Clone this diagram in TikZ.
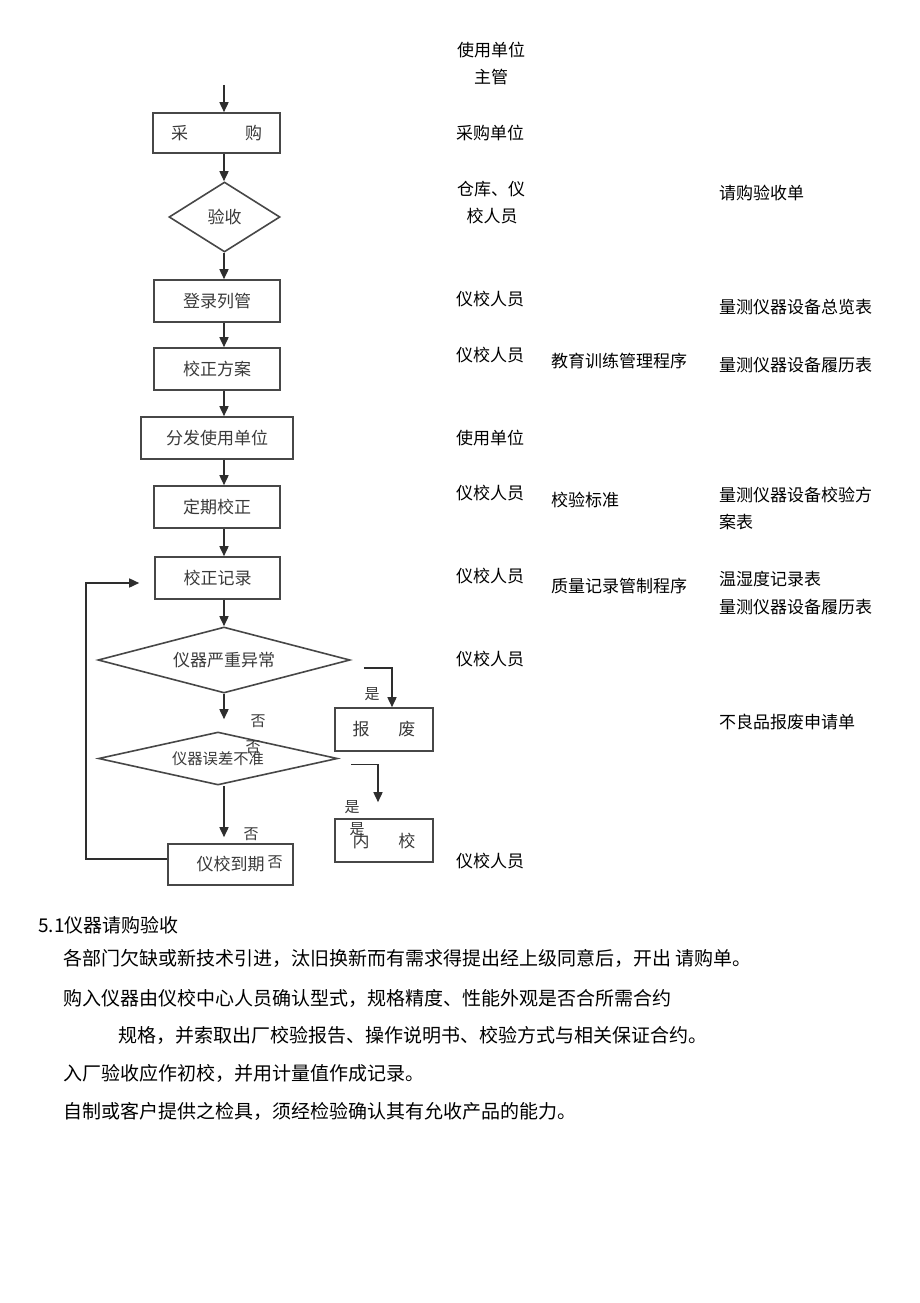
\documentclass[tikz,border=0pt]{standalone}
\usepackage{fontspec}
\setmainfont{Noto Sans CJK SC}
\usetikzlibrary{shapes.geometric,arrows.meta}
\definecolor{ln}{HTML}{474747}
\definecolor{al}{HTML}{2E2E2E}
\definecolor{ft}{HTML}{3A3A3A}
\begin{document}
\begin{tikzpicture}[x=1pt,y=-1pt,
  fbox/.style={draw=ln,line width=1.6pt,inner sep=0pt,text=ft,font=\fontsize{17}{17}\selectfont},
  dia/.style={draw=ln,line width=1.6pt,diamond,inner sep=0pt,text=ft},
  arr/.style={draw=al,line width=1.6pt,-{Triangle[length=10pt,width=9pt]}},
  yn/.style={inner sep=0pt,text=ft,font=\fontsize{15}{15}\selectfont},
  lbl/.style={inner sep=0pt,anchor=west,font=\fontsize{17}{17}\selectfont},
  lblc/.style={inner sep=0pt,font=\fontsize{17}{17}\selectfont},
  body/.style={inner sep=0pt,anchor=west,font=\fontsize{19}{19}\selectfont}]
\useasboundingbox[fill=white] (0,0) rectangle (920,1303);

% flowchart nodes
\node[fbox,minimum width=127pt,minimum height=40pt] (cg) at (216.5,133) {采\hspace{57pt}购};
\node[dia,minimum width=111pt,minimum height=70pt,font=\fontsize{17}{17}\selectfont] (ys) at (224.5,217) {验收};
\node[fbox,minimum width=126pt,minimum height=42pt] (dl) at (217,301) {登录列管};
\node[fbox,minimum width=126pt,minimum height=42pt] (fa) at (217,369) {校正方案};
\node[fbox,minimum width=152pt,minimum height=42pt] (ff) at (217,438) {分发使用单位};
\node[fbox,minimum width=126pt,minimum height=42pt] (dq1) at (217,507) {定期校正};
\node[fbox,minimum width=125pt,minimum height=42pt] (rec) at (217.5,578) {校正记录};
\node[dia,minimum width=252pt,minimum height=66pt,shape aspect=4,font=\fontsize{17}{17}\selectfont] (d1) at (224,660) {仪器严重异常};
\node[dia,minimum width=239pt,minimum height=53pt,shape aspect=4.5,font=\fontsize{15.3}{15.3}\selectfont] (d2) at (218,758.5) {仪器误差不准};
\node[fbox,minimum width=98pt,minimum height=43pt] (bf) at (384,729.5) {报\hspace{29pt}废};
\node[yn] (y3) at (357,829) {是};
\node[fbox,minimum width=98pt,minimum height=43pt] (nx) at (384,840.5) {内\hspace{29pt}校};
\node[fbox,minimum width=125pt,minimum height=41pt] (dq) at (230.5,864.5) {仪校到期};

% yes / no labels
\node[yn] (y1) at (372,694) {是};
\node[yn] (n1) at (258,721) {否};
\node[yn] (n2) at (253,747) {否};
\node[yn] (y2) at (352,807) {是};
\node[yn] (n3) at (251,834) {否};
\node[yn] (n4) at (275,862) {否};

% helper coordinates
\coordinate (ax) at (224,0);
\coordinate (lx) at (86,0);
\coordinate (b1) at (392,0);
\coordinate (b2) at (378,0);
\coordinate (topin) at (224,85);
\coordinate (recin) at ([yshift=-5pt]rec.west);
\coordinate (dqout) at ([yshift=5.5pt]dq.west);
\coordinate (s1) at ([xshift=13pt,yshift=-8pt]d1.east);
\coordinate (s2) at ([xshift=13pt,yshift=-6pt]d2.east);

% connectors
\draw[arr] (topin) -- (cg.north -| ax);
\draw[arr] (cg.south -| ax) -- (ys.north -| ax);
\draw[arr] (ys.south -| ax) -- (dl.north -| ax);
\draw[arr] (dl.south -| ax) -- (fa.north -| ax);
\draw[arr] (fa.south -| ax) -- (ff.north -| ax);
\draw[arr] (ff.south -| ax) -- (dq1.north -| ax);
\draw[arr] (dq1.south -| ax) -- (rec.north -| ax);
\draw[arr] (rec.south -| ax) -- (d1.north -| ax);
\draw[arr,shorten >=12pt] (d1.south -| ax) -- (d2.north -| ax);
\draw[arr,shorten >=6pt] (d2.south -| ax) -- (dq.north -| ax);
\draw[arr,shorten >=15pt] (dqout) -| (lx |- recin) -- (recin);
\draw[arr] (s1) -| (bf.north -| b1);
\draw[arr,shorten >=16pt] (s2) -| (nx.north -| b2);

% column 1
\node[lblc] (c1a) at (491,50) {使用单位};
\node[lblc] (c1b) at (491,77) {主管};
\node[lbl] (c1c) at (456,133) {采购单位};
\node[lblc] (c1d) at (491,189) {仓库、仪};
\node[lblc] (c1e) at (492,216) {校人员};
\node[lbl] (c1f) at (456,299) {仪校人员};
\node[lbl] (c1g) at (456,355) {仪校人员};
\node[lbl] (c1h) at (456,438) {使用单位};
\node[lbl] (c1i) at (456,493) {仪校人员};
\node[lbl] (c1j) at (456,576) {仪校人员};
\node[lbl] (c1k) at (456,659) {仪校人员};
\node[lbl] (c1l) at (456,861) {仪校人员};
% column 2
\node[lbl] (c2a) at (551,361) {教育训练管理程序};
\node[lbl] (c2b) at (551,500) {校验标准};
\node[lbl] (c2c) at (551,586) {质量记录管制程序};
% column 3
\node[lbl] (c3a) at (719,193) {请购验收单};
\node[lbl] (c3b) at (719,307) {量测仪器设备总览表};
\node[lbl] (c3c) at (719,365) {量测仪器设备履历表};
\node[lbl] (c3d) at (719,495) {量测仪器设备校验方};
\node[lbl] (c3e) at (719,522) {案表};
\node[lbl] (c3f) at (719,579) {温湿度记录表};
\node[lbl] (c3g) at (719,607) {量测仪器设备履历表};
\node[lbl] (c3h) at (719,722) {不良品报废申请单};

% body text
\node[body] (p0) at (38,925) {5.1仪器请购验收};
\node[body] (p1) at (63,958) {各部门欠缺或新技术引进，汰旧换新而有需求得提出经上级同意后，开出 请购单。};
\node[body] (p2) at (63,998) {购入仪器由仪校中心人员确认型式，规格精度、性能外观是否合所需合约};
\node[body] (p3) at (118,1035) {规格，并索取出厂校验报告、操作说明书、校验方式与相关保证合约。};
\node[body] (p4) at (63,1073) {入厂验收应作初校，并用计量值作成记录。};
\node[body] (p5) at (63,1111) {自制或客户提供之检具，须经检验确认其有允收产品的能力。};
\end{tikzpicture}
\end{document}
